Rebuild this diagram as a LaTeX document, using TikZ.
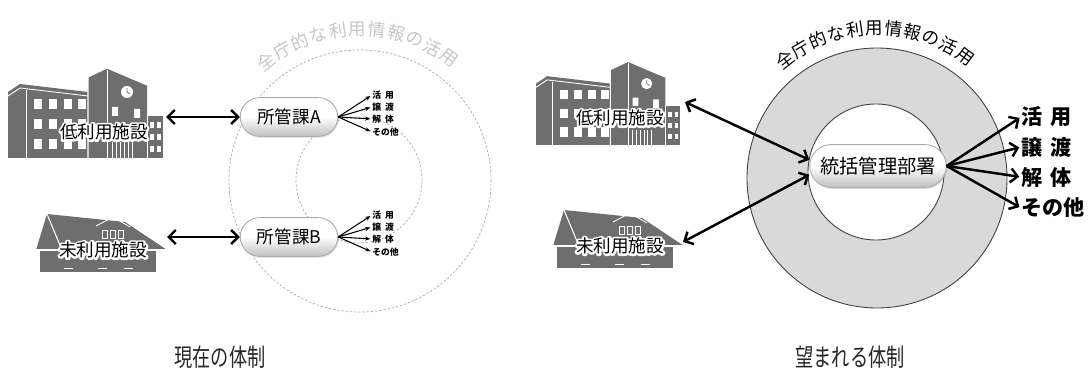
\documentclass[tikz,border=0pt]{standalone}
\usepackage{fontspec}
\setmainfont{Noto Sans CJK JP}
\usetikzlibrary{shapes.misc,arrows.meta,shadows,calc}

\definecolor{bldgray}{HTML}{6E6E6E}
\definecolor{ringgray}{HTML}{D9D9D9}

% text with a white rim: stroked copy underneath, plain copy on top
\def\halo#1{\makebox[0pt][l]{\special{pdf:literal direct q 1 Tr 1 1 1 RG 2.4 w 1 j}#1\special{pdf:literal direct Q}}#1}

% school building, origin at its lower left corner
\def\school#1#2{%
	\begin{scope}[shift={#1}, scale=#2]
		% left wing
		\fill[bldgray] (0,0) -- (0,66) -- (12,74) -- (80,66) -- (80,0) -- cycle;
		\draw[white, line width=0.5pt] (0,62) -- (12,70) -- (80,62);
		\draw[white, line width=0.5pt] (18,0) -- (18,68);
		\foreach \wx in {26,41,56,70}
		\foreach \wy in {9,29,49}
		\fill[white] (\wx,\wy) rectangle ++(8,10);
		% tower with clock
		\fill[bldgray] (80,0) -- (80,81) -- (99,90) -- (139,73) -- (139,0) -- cycle;
		\draw[white, line width=0.6pt] (80,0) -- (80,81) -- (99,90) -- (139,73);
		\draw[white, line width=0.5pt] (99,0) -- (99,88);
		\fill[white] (119,66) circle (6);
		\draw[bldgray, line width=0.4pt] (119,66) -- (119,70) (119,66) -- (122,64);
		\fill[white] (104,42) rectangle ++(6,9) (126,40) rectangle ++(6,9);
		\foreach \ex in {104,108,...,124}
		\draw[white, line width=0.4pt] (\ex,0) -- (\ex,16);
		% annex
		\fill[bldgray] (139,0) rectangle (155,43);
		\draw[white, line width=0.5pt] (139,0) -- (139,43) -- (155,43);
		\foreach \wx in {142,149}
		\foreach \wy in {6,18,30}
		\fill[white] (\wx,\wy) rectangle ++(4,6);
	\end{scope}}

% old house, origin at its lower left corner
\def\house#1{%
	\begin{scope}[shift={#1}]
		\fill[bldgray] (3,0) rectangle (121,22);
		\fill[bldgray] (0,22) -- (11,58) -- (89,50) -- (131,22) -- cycle;
		\draw[white, line width=0.6pt] (0,22) -- (131,22);
		\draw[white, line width=0.6pt] (11,58) -- (26,22);
		\draw[white, line width=0.6pt] (3,0) -- (3,22) (121,0) -- (121,22);
		% dormer
		\draw[white, line width=0.5pt] (60,46) -- (77,55) -- (94,45);
		\foreach \dx in {66,74,82}
		\draw[white, line width=0.4pt] (\dx,34) rectangle ++(5,8);
		\foreach \bx in {28,62,88}
		\draw[white, line width=0.4pt] (\bx,4) -- ++(9,0);
	\end{scope}}

\begin{document}
\begin{tikzpicture}[x=0.02cm, y=0.02cm,
	dashring/.style={draw=gray!65, line width=0.4pt, dash pattern=on 1.4pt off 1pt},
	pill/.style={rounded rectangle, draw=gray!65, line width=0.5pt,
		top color=white, bottom color=gray!50, middle color=white,
		drop shadow={opacity=0.25, shadow xshift=0.6pt, shadow yshift=-0.8pt}},
	lbl/.style={font=\fontsize{10}{10}\selectfont, inner sep=0pt},
	arcchar/.style={font=\fontsize{10}{10}\selectfont, inner sep=0pt},
	twoway/.style={{Straight Barb[length=4pt,width=8pt]}-{Straight Barb[length=4pt,width=8pt]}, line width=1.4pt},
	oneway/.style={-{Straight Barb[length=4pt,width=8pt]}, line width=1.4pt},
	feed/.style={-{Stealth[length=3pt,width=2.4pt]}, line width=0.6pt},
	smalluse/.style={font=\fontsize{5}{5}\selectfont\bfseries, inner sep=0pt, anchor=west},
	biguse/.style={font=\fontsize{12}{12}\selectfont\bfseries, inner sep=0pt, anchor=west},
	caption/.style={font=\fontsize{14}{14}\selectfont, text=black!85, xscale=0.74}]
	\useasboundingbox (0,0) rectangle (1088,372);
	
	% ---------- left: current organisation ----------
	\coordinate (L) at (360,191); % center of outer dashed circle
	\coordinate (Li) at (359,192); % center of inner dashed circle
	\draw[dashring] (L) circle (131);
	\draw[dashring] (Li) circle (63);
	
	% text along the circle
	\foreach \ch [count=\i from 0] in {全,庁,的,な,利,用,情,報,の,活,用} {
		\pgfmathsetmacro\a{128-7.4*\i}
		\node[arcchar, text=gray!45, rotate=\a-90] at ($(L)+(\a:152)$) {\ch};
	}
	
	% buildings
	\school{(8,214)}{1}
	\house{(36,100)}
	\node[lbl] (lowA) at (104,240) {\halo{低利用施設}};
	\node[lbl] (unA) at (103,122) {\halo{未利用施設}};
	\coordinate (lowAe) at (166,255);
	\coordinate (unAe) at (167,135);
	
	% sections
	\node[pill, minimum width=55.5pt, minimum height=22pt, lbl] (A) at (289,255) {所管課A};
	\node[pill, minimum width=55.5pt, minimum height=22pt, lbl] (B) at (289,135) {所管課B};
	\draw[twoway] (lowAe) -- (A.west);
	\draw[twoway] (unAe) -- (B.west);
	
	% uses of each section
	\foreach \n in {A,B} {
		\node[smalluse] (\n1) at ($(\n)+(83,22)$) {活\hspace{0.45em}用};
		\node[smalluse] (\n2) at ($(\n)+(83,10)$) {譲\hspace{0.45em}渡};
		\node[smalluse] (\n3) at ($(\n)+(83,-2)$) {解\hspace{0.45em}体};
		\node[smalluse] (\n4) at ($(\n)+(83,-15)$) {その他};
		\foreach \k in {1,2,3,4}
		\draw[feed, shorten >=1pt] (\n.east) -- (\n\k.west);
	}
	
	\node[caption] (capL) at (220,15) {現在の体制};
	
	% ---------- right: desired organisation ----------
	\coordinate (R) at (877,194); % center of ring
	\coordinate (Ri) at (876,200); % center of hole
	\fill[ringgray] (R) circle (130);
	\draw[line width=0.5pt, black!75] (R) circle (130);
	\filldraw[fill=white, draw=black!75, line width=0.5pt] (Ri) circle (68);
	
	% text along the ring
	\foreach \ch [count=\i from 0] in {全,庁,的,な,利,用,情,報,の,活,用} {
		\pgfmathsetmacro\a{128-7.4*\i}
		\node[arcchar, rotate=\a-90] at ($(R)+(\a:150)$) {\ch};
	}
	
	% buildings
	\school{(536,227)}{0.93}
	\house{(553,104)}
	\node[lbl] (lowB) at (620,254) {\halo{低利用施設}};
	\node[lbl] (unB) at (620,126) {\halo{未利用施設}};
	\coordinate (lowBe) at (685,270);
	\coordinate (unBe) at (683,130);
	
	% central department
	\node[pill, minimum width=77.7pt, minimum height=24.4pt, lbl, font=\fontsize{11}{11}\selectfont] (U) at (878,206) {統括管理部署};
	\draw[twoway] (lowBe) -- ([yshift=3.5pt]U.west);
	\draw[twoway] (unBe) -- ([yshift=-5pt]U.west);
	
	% uses
	\node[biguse] (u1) at (1021,255) {活\hspace{0.4em}用};
	\node[biguse] (u2) at (1021,225) {譲\hspace{0.4em}渡};
	\node[biguse] (u3) at (1021,195) {解\hspace{0.4em}体};
	\node[biguse] (u4) at (1021,164) {その他};
	\foreach \k in {1,2,3,4}
	\draw[oneway, shorten >=1pt] (U.east) -- (u\k.west);
	
	\node[caption] (capR) at (850,15) {望まれる体制};
\end{tikzpicture}
\end{document}
